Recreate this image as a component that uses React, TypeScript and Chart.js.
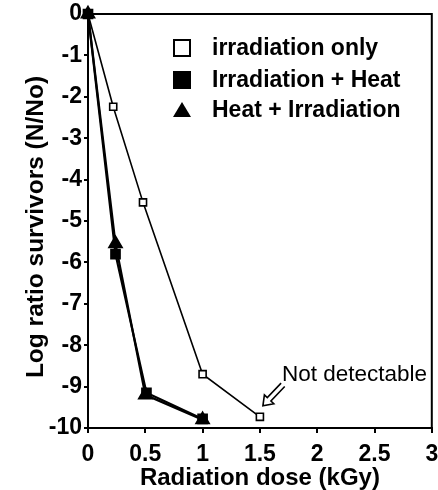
import React, { useEffect, useRef } from 'react';
import { Chart, registerables } from 'chart.js';

Chart.register(...registerables);

// ---- data ----
const seriesLabels = ['irradiation only', 'Irradiation + Heat', 'Heat + Irradiation'];
const doseIrrOnly = [0, 0.22, 0.48, 1, 1.5];
const logIrrOnly = [0, -2.24, -4.55, -8.7, -9.73];
const doseIrrHeat = [0, 0.24, 0.51, 1];
const logIrrHeat = [0, -5.8, -9.15, -9.78];
const doseHeatIrr = [0, 0.24, 0.5, 1];
const logHeatIrr = [0, -5.55, -9.2, -9.8];
const xTickValues = [0, 0.5, 1, 1.5, 2, 2.5, 3];
const xTickLabels = ['0', '0.5', '1', '1.5', '2', '2.5', '3'];
const yTickValues = [0, -1, -2, -3, -4, -5, -6, -7, -8, -9, -10];
const yTickLabels = ['0', '-1', '-2', '-3', '-4', '-5', '-6', '-7', '-8', '-9', '-10'];
const xTitle = 'Radiation dose (kGy)';
const yTitle = 'Log ratio survivors (N/No)';
const noteText = 'Not detectable';
const notePoint = { x: 1.5, y: -9.73 };

const FONT = '"Liberation Sans", Arial, Helvetica, sans-serif';
const CANVAS_W = 441;

const toPoints = (xs: number[], ys: number[]) => xs.map((x, i) => ({ x, y: ys[i] }));

const decorPlugin = {
  id: 'decor',
  afterDraw(chart: any) {
    const { ctx, chartArea, scales } = chart;
    ctx.save();
    // frame (top and right sides)
    ctx.strokeStyle = '#000';
    ctx.lineWidth = 2;
    ctx.beginPath();
    ctx.moveTo(chartArea.left, chartArea.top);
    ctx.lineTo(chartArea.right, chartArea.top);
    ctx.lineTo(chartArea.right, chartArea.bottom);
    ctx.stroke();

    // y axis title
    ctx.save();
    ctx.translate(36, (chartArea.top + chartArea.bottom) / 2 + 6);
    ctx.rotate(-Math.PI / 2);
    ctx.font = `bold 24.5px ${FONT}`;
    ctx.textAlign = 'center';
    ctx.textBaseline = 'middle';
    ctx.fillStyle = '#000';
    ctx.fillText(yTitle, 0, 0);
    ctx.restore();

    // legend
    const lx = 182;
    const rows = [48, 80, 110];
    ctx.font = `bold 23px ${FONT}`;
    ctx.textBaseline = 'middle';
    ctx.textAlign = 'left';
    ctx.fillStyle = '#000';
    ctx.lineWidth = 2;
    ctx.strokeRect(lx - 8, rows[0] - 8, 16, 16);
    ctx.fillRect(lx - 9, rows[1] - 9, 18, 18);
    ctx.beginPath();
    ctx.moveTo(lx, rows[2] - 8);
    ctx.lineTo(lx + 9, rows[2] + 7);
    ctx.lineTo(lx - 9, rows[2] + 7);
    ctx.closePath();
    ctx.fill();
    seriesLabels.forEach((t, i) => ctx.fillText(t, 212, rows[i] + 1));

    // annotation
    const px = scales.x.getPixelForValue(notePoint.x);
    const py = scales.y.getPixelForValue(notePoint.y);
    ctx.font = `22.5px ${FONT}`;
    ctx.fillText(noteText, px + 22, py - 42);

    // hollow arrow from tail to head
    const hx = px + 3, hy = py - 11;
    const tx = px + 23, ty = py - 32;
    const ang = Math.atan2(hy - ty, hx - tx);
    const len = Math.hypot(hx - tx, hy - ty);
    ctx.translate(tx, ty);
    ctx.rotate(ang);
    const sw = 2.5, hw = 6.5, hl = 9;
    ctx.beginPath();
    ctx.moveTo(0, -sw);
    ctx.lineTo(len - hl, -sw);
    ctx.lineTo(len - hl, -hw);
    ctx.lineTo(len, 0);
    ctx.lineTo(len - hl, hw);
    ctx.lineTo(len - hl, sw);
    ctx.lineTo(0, sw);
    ctx.fillStyle = '#fff';
    ctx.fill();
    ctx.lineWidth = 1.6;
    ctx.stroke();
    ctx.restore();
  },
};

export default function App() {
  const ref = useRef<HTMLCanvasElement | null>(null);
  useEffect(() => {
    if (!ref.current) return;
    const tickFont = { family: FONT, size: 23, weight: 'bold' as const };
    const chart = new Chart(ref.current, {
      type: 'scatter',
      data: {
        datasets: [
          {
            label: seriesLabels[0],
            data: toPoints(doseIrrOnly, logIrrOnly),
            showLine: true,
            borderColor: '#000',
            borderWidth: 1.6,
            pointStyle: 'rect',
            pointRadius: 5,
            pointBackgroundColor: '#fff',
            pointBorderColor: '#000',
            pointBorderWidth: 1.6,
            clip: false as any,
            order: 3,
          },
          {
            label: seriesLabels[1],
            data: toPoints(doseIrrHeat, logIrrHeat),
            showLine: true,
            borderColor: '#000',
            borderWidth: 2.2,
            pointStyle: 'rect',
            pointRadius: 6,
            pointBackgroundColor: '#000',
            pointBorderColor: '#000',
            clip: false as any,
            order: 1,
          },
          {
            label: seriesLabels[2],
            data: toPoints(doseHeatIrr, logHeatIrr),
            showLine: true,
            borderColor: '#000',
            borderWidth: 2.2,
            pointStyle: 'triangle',
            pointRadius: 7,
            pointBackgroundColor: '#000',
            pointBorderColor: '#000',
            clip: false as any,
            order: 2,
          },
        ],
      },
      options: {
        animation: false,
        responsive: false,
        layout: { padding: { top: 14, right: 6, left: 0, bottom: 0 } },
        plugins: { legend: { display: false }, tooltip: { enabled: false } },
        scales: {
          x: {
            type: 'linear',
            min: 0,
            max: 3,
            afterBuildTicks: (s: any) => {
              s.ticks = xTickValues.map((v) => ({ value: v }));
            },
            ticks: {
              font: tickFont,
              color: '#000',
              padding: 8,
              callback: (v: any) => xTickLabels[xTickValues.indexOf(Number(v))] ?? String(v),
            },
            grid: { drawOnChartArea: false, tickLength: 5, color: '#000', lineWidth: 2 },
            border: { color: '#000', width: 2 },
            title: {
              display: true,
              text: xTitle,
              color: '#000',
              font: { family: FONT, size: 24, weight: 'bold', lineHeight: 1 },
              padding: 0,
            },
            afterFit: (s: any) => {
              s.height = 62;
              s.paddingLeft = 0;
              s.paddingRight = 0;
            },
          },
          y: {
            type: 'linear',
            min: -10,
            max: 0,
            afterBuildTicks: (s: any) => {
              s.ticks = yTickValues.map((v) => ({ value: v }));
            },
            ticks: {
              font: tickFont,
              color: '#000',
              padding: 2,
              callback: (v: any) => yTickLabels[yTickValues.indexOf(Number(v))] ?? String(v),
            },
            grid: { drawOnChartArea: false, tickLength: 4, color: '#000', lineWidth: 2 },
            border: { color: '#000', width: 2 },
            title: { display: false, text: yTitle },
            afterFit: (s: any) => {
              s.width = 88;
              s.paddingTop = 0;
              s.paddingBottom = 0;
            },
          },
        },
      },
      plugins: [decorPlugin],
    });
    return () => chart.destroy();
  }, []);
  return (
    <div style={{ position: 'fixed', left: 0, top: 0, width: 438, height: 490, overflow: 'hidden', background: '#fff' }}>
      <canvas ref={ref} width={CANVAS_W} height={490} style={{ width: CANVAS_W, height: 490, display: 'block' }} />
    </div>
  );
}
